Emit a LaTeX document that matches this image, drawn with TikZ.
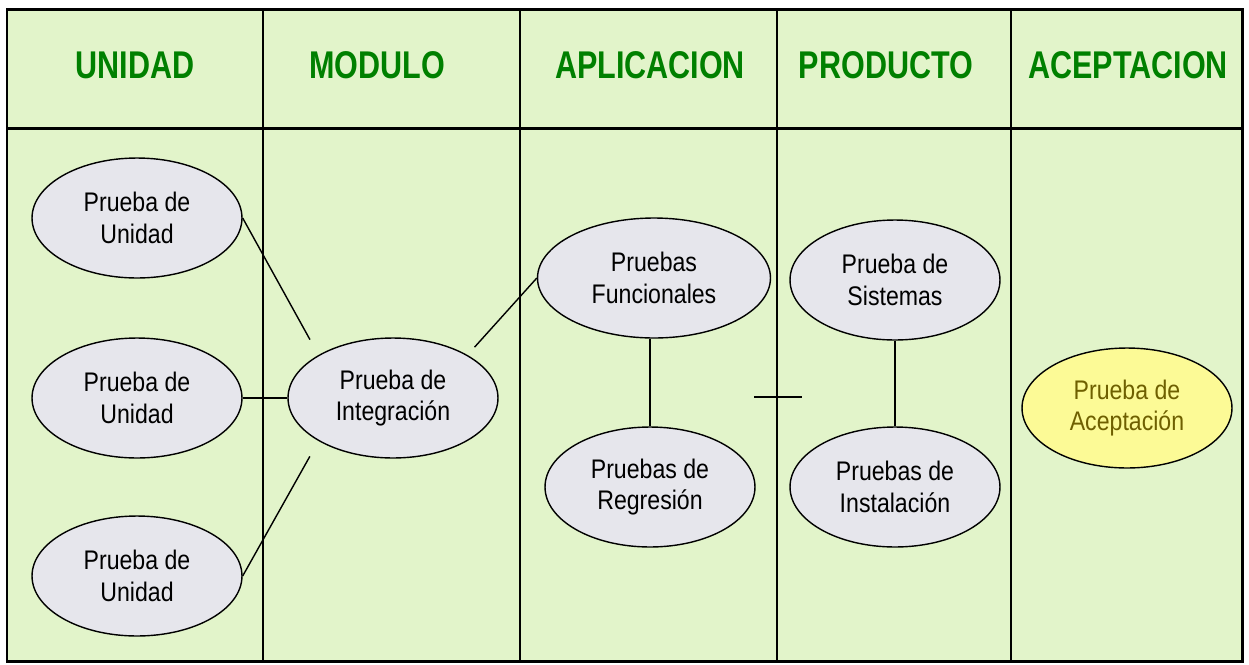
\documentclass[tikz,border=0pt]{standalone}
\usepackage{fontspec}
\newfontfamily\headfont[FakeStretch=0.79]{Liberation Sans}
\newfontfamily\ovalfont[FakeStretch=0.86]{Liberation Sans}
\usetikzlibrary{shapes.geometric,positioning}
\definecolor{fondo}{RGB}{226,244,202}
\definecolor{verde}{RGB}{0,128,0}
\definecolor{gris}{RGB}{230,230,236}
\definecolor{amarillo}{RGB}{252,250,150}
\definecolor{ocre}{RGB}{110,95,0}
\tikzset{
  oval/.style={ellipse,draw,line width=0.8pt,fill=gris,minimum width=4.2cm,minimum height=2.4cm,inner sep=0pt,align=center,font=\ovalfont\fontsize{15.3}{18}\selectfont},
  titulo/.style={font=\headfont\bfseries\fontsize{22}{24}\selectfont,text=verde},
  liga/.style={line width=0.8pt},
  rejilla/.style={line width=1.7pt}
}
\begin{document}
\begin{tikzpicture}[x=0.02cm,y=-0.02cm]
\useasboundingbox (0,0) rectangle (1249,664);
\fill[white] (0,0) rectangle (1249,664);
\fill[fondo] (7,9) rectangle (1242,661);
\draw[rejilla] (7,9) rectangle (1242,661);
\draw[rejilla] (7,128) -- (1242,128);
\foreach \x in {263,520,777,1011} \draw[rejilla] (\x,9) -- (\x,661);
\node[titulo] (h1) at (135,65) {UNIDAD};
\node[titulo] (h2) at (377,65) {MODULO};
\node[titulo] (h3) at (650,65) {APLICACION};
\node[titulo] (h4) at (886,65) {PRODUCTO};
\node[titulo] (h5) at (1128,65) {ACEPTACION};
\node[oval] (u1) at (137,218) {Prueba de\\Unidad};
\node[oval] (u2) at (137,398) {Prueba de\\Unidad};
\node[oval] (u3) at (137,576) {Prueba de\\Unidad};
\node[oval] (integ) at (393,398) {Prueba de\\Integración};
\node[oval,minimum width=4.66cm] (func) at (654,278) {Pruebas\\Funcionales};
\node[oval] (regr) at (650,487) {Pruebas de\\Regresión};
\node[oval] (sist) at (895,280) {Prueba de\\Sistemas};
\node[oval] (inst) at (895,487) {Pruebas de\\Instalación};
\node[oval,fill=amarillo,text=ocre] (acep) at (1127,408) {Prueba de\\Aceptación};
\draw[liga,shorten >=10pt] (u1.east) -- (integ.150);
\draw[liga] (u2.east) -- (integ.west);
\draw[liga,shorten >=10pt] (u3.east) -- (integ.210);
\draw[liga,shorten <=6pt] (integ.30) -- (func.west);
\draw[liga] (func.south -| regr.north) -- (regr.north);
\draw[liga] (sist.south) -- (inst.north);
\coordinate (t1) at (754,397);
\coordinate (t2) at (802,397);
\draw[liga] (t1) -- (t2);
\end{tikzpicture}
\end{document}
